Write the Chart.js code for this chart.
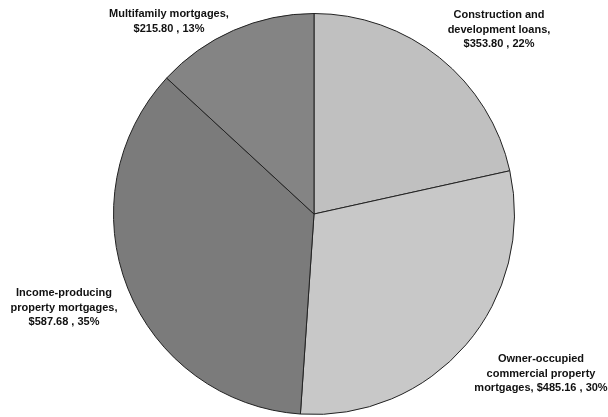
<!DOCTYPE html>
<html>
<head>
<meta charset="utf-8">
<script src="https://cdn.jsdelivr.net/npm/chart.js@4.4.1/dist/chart.umd.min.js"></script>
<style>
  html, body { margin: 0; padding: 0; background: #fff; }
  #wrap { width: 608px; height: 417px; }
</style>
</head>
<body>
<div id="wrap"><canvas id="pie"></canvas></div>
<script>
// data (clockwise from 12 o'clock)
const categories = [
  'Construction and development loans',
  'Owner-occupied commercial property mortgages',
  'Income-producing property mortgages',
  'Multifamily mortgages'
];
const amounts = [353.80, 485.16, 587.68, 215.80];
const percents = [22, 30, 35, 13];

// label text, broken into lines the way the original wraps them
const labelLines = [
  ['Construction and', 'development loans,', '$353.80 , 22%'],
  ['Owner-occupied', 'commercial property', 'mortgages, $485.16 , 30%'],
  ['Income-producing', 'property mortgages,', '$587.68 , 35%'],
  ['Multifamily mortgages,', '$215.80 , 13%']
];

const sliceColors = ['#c0c0c0', '#c8c8c8', '#7b7b7b', '#848484'];

// where each label block sits, as offset from the pie centre (px)
const labelOffsets = [[185, -199], [227, 145], [-250, 79], [-145, -200]];

const outsideLabels = {
  id: 'outsideLabels',
  afterDatasetsDraw(chart) {
    const ctx = chart.ctx;
    const arc = chart.getDatasetMeta(0).data[0];
    const cx = arc.x, cy = arc.y;
    ctx.save();
    ctx.font = 'bold 11px "Liberation Sans", Arial, sans-serif';
    ctx.fillStyle = '#111';
    ctx.textAlign = 'center';
    ctx.textBaseline = 'middle';
    const lh = 14.5;
    labelLines.forEach((lines, i) => {
      const x = cx + labelOffsets[i][0];
      const y0 = cy + labelOffsets[i][1];
      lines.forEach((t, j) => ctx.fillText(t, x, y0 + j * lh));
    });
    ctx.restore();
  }
};

new Chart(document.getElementById('pie'), {
  type: 'pie',
  data: {
    labels: categories,
    datasets: [{
      data: amounts,
      backgroundColor: sliceColors,
      borderColor: '#222',
      borderWidth: 1
    }]
  },
  options: {
    responsive: true,
    maintainAspectRatio: false,
    animation: false,
    layout: { padding: { top: 12, bottom: 1, left: 113, right: 93 } },
    plugins: {
      legend: { display: false },
      tooltip: { enabled: false }
    }
  },
  plugins: [outsideLabels]
});
</script>
</body>
</html>
